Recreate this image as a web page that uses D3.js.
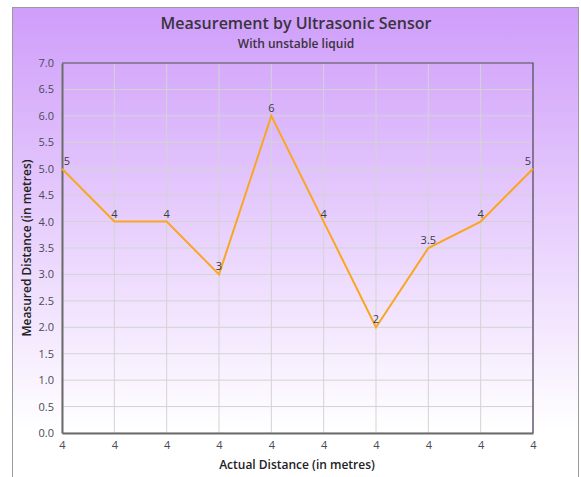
<!DOCTYPE html>
<html><head><meta charset="utf-8">
<script src="https://cdn.jsdelivr.net/npm/d3@7"></script>
<style>body{margin:0;background:#fff;}svg{display:block;font-family:"Open Sans",sans-serif;}</style>
</head><body>
<script>
const xLabels = ["4","4","4","4","4","4","4","4","4","4"];
const measured = [5,4,4,3,6,4,2,3.5,4,5];
const yTicks = [0,0.5,1,1.5,2,2.5,3,3.5,4,4.5,5,5.5,6,6.5,7];
const title = "Measurement by Ultrasonic Sensor";
const subtitle = "With unstable liquid";
const xTitle = "Actual Distance (in metres)";
const yTitle = "Measured Distance (in metres)";

const W = 581, H = 477;
const m = {l:62, r:48, t:63, b:44};
const svg = d3.select("body").append("svg").attr("width",W).attr("height",H);
const defs = svg.append("defs");
const g1 = defs.append("linearGradient").attr("id","bg").attr("x1",0).attr("y1",0).attr("x2",0).attr("y2",1);
g1.append("stop").attr("offset","0%").attr("stop-color","#cf9dfa");
g1.append("stop").attr("offset","88%").attr("stop-color","#ffffff");
svg.append("rect").attr("x",12.5).attr("y",7.5).attr("width",566).attr("height",480)
  .attr("fill","url(#bg)").attr("stroke","#9a9a9a").attr("stroke-width",1);

const x = d3.scaleLinear().domain([0, measured.length-1]).range([m.l, W-m.r]);
const y = d3.scaleLinear().domain([0,7]).range([H-m.b, m.t]);

// grid
svg.append("g").selectAll("line").data(yTicks).join("line")
  .attr("x1",m.l).attr("x2",W-m.r).attr("y1",d=>y(d)).attr("y2",d=>y(d))
  .attr("stroke","#d3d3d3").attr("stroke-width",1);
svg.append("g").selectAll("line").data(d3.range(measured.length)).join("line")
  .attr("x1",d=>x(d)).attr("x2",d=>x(d)).attr("y1",m.t).attr("y2",H-m.b)
  .attr("stroke","#d3d3d3").attr("stroke-width",1);

// border top/right
svg.append("path").attr("d",`M${m.l},${m.t}H${W-m.r}V${H-m.b}`).attr("fill","none")
  .attr("stroke","#4d3f5c").attr("stroke-width",1.2);

// axes
const yAxis = svg.append("g").attr("transform",`translate(${m.l},0)`)
  .call(d3.axisLeft(y).tickValues(yTicks).tickFormat(d3.format(".1f")).tickSize(0).tickPadding(8));
const xAxis = svg.append("g").attr("transform",`translate(0,${H-m.b})`)
  .call(d3.axisBottom(x).tickValues(d3.range(measured.length)).tickFormat(i=>xLabels[i]).tickSize(0).tickPadding(8));
[yAxis,xAxis].forEach(a=>{
  a.select(".domain").attr("stroke","#6b6b6b").attr("stroke-width",2);
  a.selectAll("text").attr("fill","#4a4a55").attr("font-size",11).attr("font-family","Open Sans");
});

// line
svg.append("path").datum(measured)
  .attr("d",d3.line().x((d,i)=>x(i)).y(d=>y(d)))
  .attr("fill","none").attr("stroke","#f9a623").attr("stroke-width",2);

// labels
svg.append("g").selectAll("text").data(measured).join("text")
  .attr("x",(d,i)=>i===0?x(i)+5:(i===measured.length-1?x(i)-5:x(i)))
  .attr("y",d=>y(d)-4)
  .attr("text-anchor","middle").attr("font-size",11).attr("fill","#3a3a4a")
  .text(d=>d);

// titles
svg.append("text").attr("x",296).attr("y",29).attr("text-anchor","middle")
  .attr("font-size",16).attr("font-weight",600).attr("fill","#3a3340").text(title);
svg.append("text").attr("x",296).attr("y",48).attr("text-anchor","middle")
  .attr("font-size",12).attr("font-weight",600).attr("fill","#3a3340").text(subtitle);
svg.append("text").attr("x",297).attr("y",469).attr("text-anchor","middle")
  .attr("font-size",12).attr("font-weight",600).attr("fill","#222").text(xTitle);
svg.append("text").attr("transform","translate(31,248) rotate(-90)").attr("text-anchor","middle")
  .attr("font-size",12).attr("font-weight",600).attr("fill","#222").text(yTitle);
</script>
</body></html>
